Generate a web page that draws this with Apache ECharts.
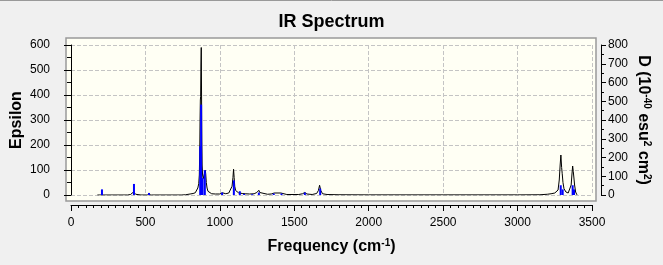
<!DOCTYPE html>
<html>
<head>
<meta charset="utf-8">
<script src="https://cdn.jsdelivr.net/npm/echarts@6/dist/echarts.min.js"></script>
<style>
html,body{margin:0;padding:0;background:#F0F0F0;}
#c{width:663px;height:265px;}
</style>
</head>
<body>
<div id="c"></div>
<script>
// Convolved spectrum (Epsilon, left axis)
const lineFreq = [177,380,400,412,420,426,434,445,470,510,524,540,740,770,778,800,820,835,845,852,858,862,865,867,869,871,873,875,877,879,881,884,888,893,898,902,905,909,914,920,930,945,970,1000,1010,1016,1022,1040,1060,1072,1082,1088,1092,1096,1100,1106,1115,1125,1132,1138,1150,1170,1200,1230,1248,1257,1262,1268,1280,1320,1345,1356,1365,1410,1418,1450,1530,1555,1571,1585,1620,1650,1662,1670,1678,1690,1720,1800,2000,2500,3000,3150,3200,3225,3250,3263,3272,3280,3286,3291,3296,3300,3305,3312,3325,3340,3352,3360,3365,3370,3374,3378,3383,3390,3397,3400];
const lineEps = [0,0,2,6,12,8,3,1,0,0,1,0,0,1,3,4,6,9,14,28,45,80,180,300,380,395,520,590,400,220,120,80,65,70,90,99,85,50,28,15,8,5,4,4,7,9,5,5,8,15,35,70,103,70,35,18,12,9,12,8,6,5,4,5,10,18,19,10,4,3,4,7,8,8,4,2,2,5,10,4,2,6,18,39,18,5,2,1,0.5,0.5,0.5,1,3,5,8,10,20,60,120,160,110,85,50,25,12,8,12,40,80,116,95,72,40,12,3,0];
// Stick intensities (D, right axis)
const stickFreq = [208,423,524,868,874,884,899,1015,1094,1134,1163,1217,1262,1362,1414,1571,1674,3290,3303,3370,3379];
const stickD = [30,59,11,260,482,90,132,13,78,20,6,4,13,8,8,13,34,52,30,52,30];
// Axis settings
const xMin = 0, xMax = 3500, xStep = 500;
const yMin = 0, yMax = 600, yStep = 100;
const y2Min = 0, y2Max = 800, y2Step = 100;

const chart = echarts.init(document.getElementById('c'), null, {renderer:'canvas'});
const FONT = '"Liberation Sans", Arial, sans-serif';
const supStyle = {fontSize: 10, fontWeight: 'bold', color: '#000', fontFamily: FONT, verticalAlign: 'top', lineHeight: 18};
const baseName = {fontSize: 16, fontWeight: 'bold', color: '#000', fontFamily: FONT, lineHeight: 18};
const plain = v => String(v);

chart.setOption({
  backgroundColor: '#F0F0F0',
  animation: false,
  title: {
    text: 'IR Spectrum', left: 'center', top: 8,
    textStyle: {fontSize: 18, fontWeight: 'bold', color: '#000', fontFamily: FONT}
  },
  graphic: [
    {type: 'rect', z: -10, shape: {x: 66, y: 38, width: 530, height: 163},
     style: {fill: '#FFFFF4', stroke: '#999999', lineWidth: 1.5}},
    {type: 'line', z: -10, shape: {x1: 0, y1: 0.5, x2: 663, y2: 0.5},
     style: {stroke: '#999999', lineWidth: 1}}
  ],
  grid: {left: 71, right: 71, top: 45, bottom: 70, containLabel: false, outerBoundsMode: 'none'},
  xAxis: {
    type: 'value', min: xMin, max: xMax, interval: xStep, offset: 10,
    axisLine: {show: true, onZero: false, lineStyle: {color: '#000', width: 1}},
    axisTick: {show: true, length: 6, lineStyle: {color: '#000'}},
    minorTick: {show: true, splitNumber: 10, length: 3, lineStyle: {color: '#000'}},
    axisLabel: {margin: 12, fontSize: 12, color: '#000', fontFamily: FONT, formatter: plain},
    splitLine: {show: true, lineStyle: {type: 'dashed', color: '#c4c4c4'}},
    name: 'Frequency (cm{sup|-1})', nameLocation: 'middle', nameGap: 33, nameMoveOverlap: false,
    nameTextStyle: Object.assign({}, baseName, {rich: {sup: supStyle}})
  },
  yAxis: [{
    type: 'value', min: yMin, max: yMax, interval: yStep, position: 'left', offset: 7,
    axisLine: {show: true, lineStyle: {color: '#000', width: 1}},
    axisTick: {show: true, length: 7, lineStyle: {color: '#000'}},
    minorTick: {show: true, splitNumber: 2, length: 4, lineStyle: {color: '#000'}},
    axisLabel: {margin: 14, fontSize: 12, color: '#000', fontFamily: FONT, formatter: plain},
    splitLine: {show: true, lineStyle: {type: 'dashed', color: '#c4c4c4'}},
    name: 'Epsilon', nameLocation: 'middle', nameGap: 38, nameRotate: 90, nameMoveOverlap: false,
    nameTextStyle: baseName
  }, {
    type: 'value', min: y2Min, max: y2Max, interval: y2Step, position: 'right', offset: 9,
    axisLine: {show: true, lineStyle: {color: '#000', width: 1}},
    axisTick: {show: true, length: 5, lineStyle: {color: '#000'}},
    minorTick: {show: true, splitNumber: 2, length: 3, lineStyle: {color: '#000'}},
    axisLabel: {margin: 7, fontSize: 12, color: '#000', fontFamily: FONT, formatter: plain},
    splitLine: {show: false},
    name: 'D (10{sup|-40} esu{sup|2} cm{sup|2})', nameLocation: 'middle', nameGap: 33, nameRotate: -90, nameMoveOverlap: false,
    nameTextStyle: Object.assign({}, baseName, {rich: {sup: supStyle}})
  }],
  series: [{
    type: 'line', xAxisIndex: 0, yAxisIndex: 0, z: 3,
    data: lineFreq.map((f, i) => [f, lineEps[i]]),
    showSymbol: false, symbol: 'none',
    lineStyle: {color: '#000', width: 1}
  }, {
    type: 'bar', xAxisIndex: 0, yAxisIndex: 1, z: 4,
    data: stickFreq.map((f, i) => [f, stickD[i]]),
    barWidth: 2,
    itemStyle: {color: '#0000ff'}
  }]
});
</script>
</body>
</html>
